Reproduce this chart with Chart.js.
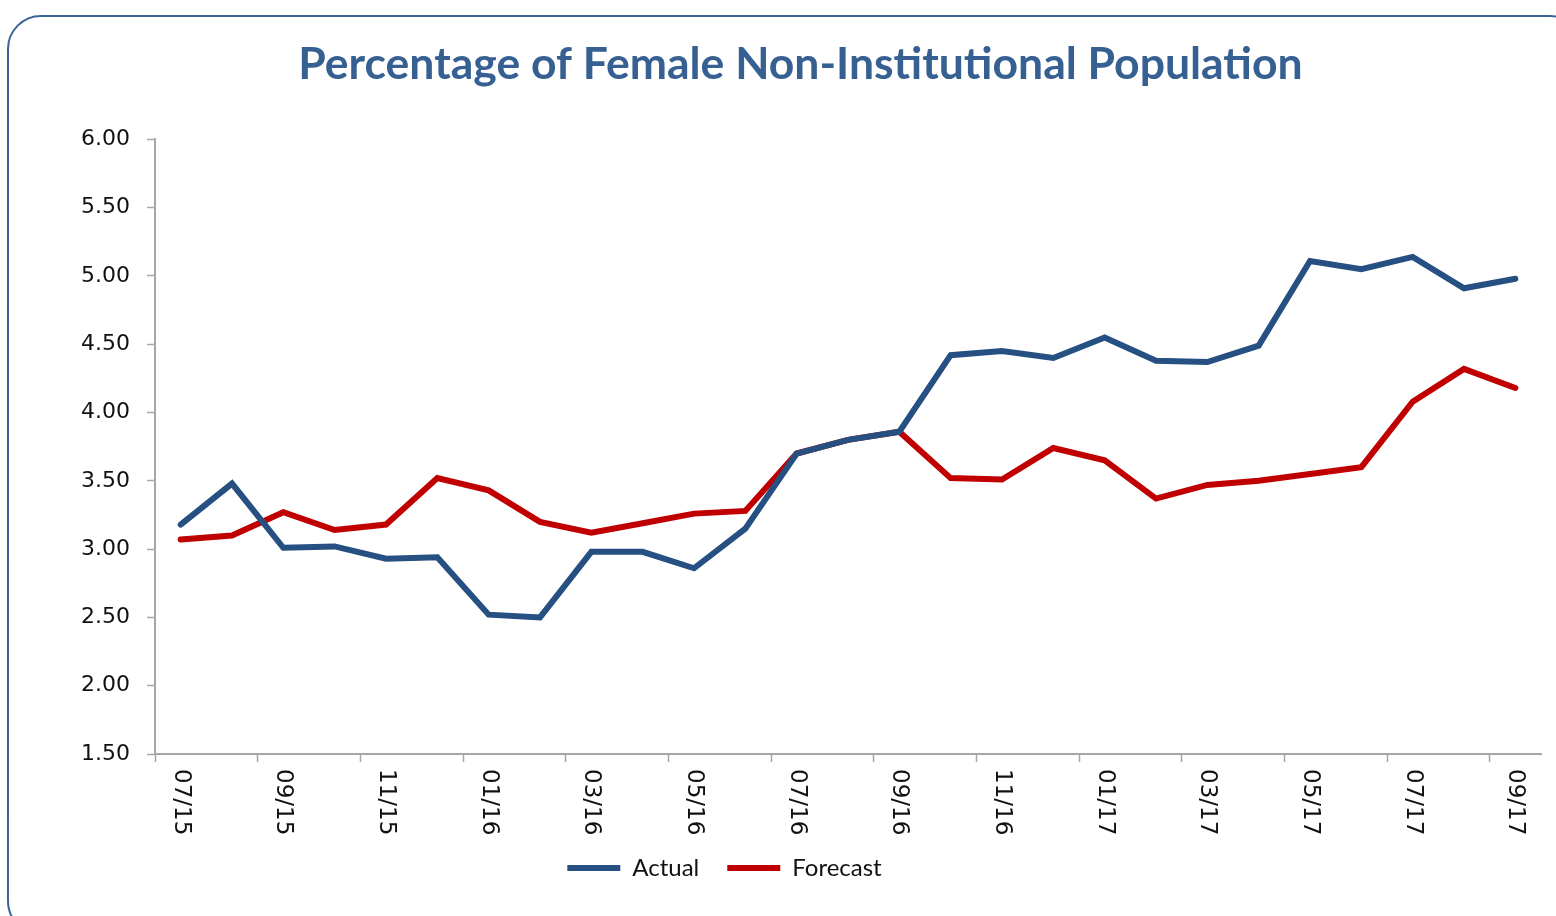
<!DOCTYPE html>
<html>
<head>
<meta charset="utf-8">
<script src="https://cdn.jsdelivr.net/npm/chart.js@4.4.0/dist/chart.umd.min.js"></script>
<style>
  html, body { margin: 0; padding: 0; background: #ffffff; }
  #wrap { position: relative; width: 1556px; height: 916px; }
</style>
</head>
<body>
<div id="wrap"><canvas id="c" width="1556" height="916"></canvas></div>
<script>
const chartTitle = 'Percentage of Female Non-Institutional Population';
const months = ['07/15','08/15','09/15','10/15','11/15','12/15','01/16','02/16','03/16','04/16','05/16','06/16',
                '07/16','08/16','09/16','10/16','11/16','12/16','01/17','02/17','03/17','04/17','05/17','06/17',
                '07/17','08/17','09/17'];
const actual = [3.18, 3.48, 3.01, 3.02, 2.93, 2.94, 2.52, 2.50, 2.98, 2.98, 2.86, 3.15,
                3.70, 3.80, 3.86, 4.42, 4.45, 4.40, 4.55, 4.38, 4.37, 4.49, 5.11, 5.05,
                5.14, 4.91, 4.98];
const forecast = [3.07, 3.10, 3.27, 3.14, 3.18, 3.52, 3.43, 3.20, 3.12, 3.19, 3.26, 3.28,
                  3.70, 3.80, 3.86, 3.52, 3.51, 3.74, 3.65, 3.37, 3.47, 3.50, 3.55, 3.60,
                  4.08, 4.32, 4.18];
const yMin = 1.5, yMax = 6.0, yStep = 0.5;

const CHART_BOTTOM = 754;
const PAD_BOTTOM = 26;
const AXIS_GRAY = '#a6a6a6';
const TICK_FONT = 'DejaVu Sans';

const framePlugin = {
  id: 'frame',
  beforeDraw(chart) {
    const ctx = chart.ctx;
    ctx.save();
    ctx.fillStyle = '#ffffff';
    ctx.fillRect(0, 0, chart.width, chart.height);
    ctx.beginPath();
    ctx.roundRect(8, 16, 1575, 918, 33);
    ctx.lineWidth = 2;
    ctx.strokeStyle = '#3b6496';
    ctx.stroke();
    ctx.restore();
  }
};

const shiftPlugin = {
  id: 'shift',
  afterLayout(chart) {
    if (chart.titleBlock) { chart.titleBlock.left += 30; chart.titleBlock.right += 30; }
    if (chart.legend) { chart.legend.left -= 46; chart.legend.right -= 46; }
  }
};

const xLabelPlugin = {
  id: 'xLabels',
  afterDraw(chart) {
    const xs = chart.scales.x;
    const ctx = chart.ctx;
    ctx.save();
    ctx.font = '23px "' + TICK_FONT + '"';
    ctx.fillStyle = '#111111';
    ctx.textAlign = 'left';
    ctx.textBaseline = 'middle';
    months.forEach((m, i) => {
      if (i % 2 !== 0) return;
      const x = xs.getPixelForValue(i);
      ctx.save();
      ctx.translate(x, 769);
      ctx.rotate(Math.PI / 2);
      ctx.fillText(m, 0, 0);
      ctx.restore();
    });
    ctx.restore();
  }
};

new Chart(document.getElementById('c'), {
  type: 'line',
  data: {
    labels: months,
    datasets: [
      { label: 'Actual', data: actual, borderColor: '#264f82', backgroundColor: '#264f82',
        borderWidth: 6, pointRadius: 0, tension: 0, borderCapStyle: 'round', borderJoinStyle: 'miter' },
      { label: 'Forecast', data: forecast, borderColor: '#c00000', backgroundColor: '#c00000',
        borderWidth: 6, pointRadius: 0, tension: 0, borderCapStyle: 'round', borderJoinStyle: 'miter' }
    ]
  },
  options: {
    responsive: false,
    animation: false,
    layout: { padding: { left: 0, right: 15, top: 16, bottom: PAD_BOTTOM } },
    plugins: {
      title: {
        display: true,
        text: chartTitle,
        color: '#376092',
        font: { family: 'Lato', size: 44.5, weight: 'bold' },
        padding: { top: 22, bottom: 48 }
      },
      legend: {
        display: true,
        position: 'bottom',
        labels: {
          usePointStyle: true,
          pointStyle: 'line',
          pointStyleWidth: 53,
          boxHeight: 22,
          color: '#111111',
          font: { family: 'Lato', size: 24 },
          padding: 28
        }
      },
      tooltip: { enabled: false }
    },
    scales: {
      x: {
        type: 'category',
        offset: true,
        grid: {
          offset: true,
          drawOnChartArea: false,
          drawTicks: true,
          tickLength: 8,
          tickWidth: 1.5,
          tickColor: (c) => (c.index !== undefined && c.index % 2 === 0) ? AXIS_GRAY : 'rgba(0,0,0,0)'
        },
        border: { display: true, color: AXIS_GRAY, width: 2 },
        ticks: { display: false, autoSkip: false },
        afterFit(scale) {
          const lh = scale.chart.legend ? scale.chart.legend.height : 0;
          scale.height = 916 - CHART_BOTTOM - lh - PAD_BOTTOM;
        }
      },
      y: {
        min: yMin,
        max: yMax,
        grid: {
          drawOnChartArea: false,
          drawTicks: true,
          tickLength: 8,
          tickWidth: 1.5,
          tickColor: AXIS_GRAY
        },
        border: { display: true, color: AXIS_GRAY, width: 2 },
        ticks: {
          stepSize: yStep,
          padding: 17,
          color: '#111111',
          font: { family: TICK_FONT, size: 22 },
          callback: (v) => Number(v).toFixed(2)
        },
        afterFit(scale) { scale.width = 155; }
      }
    }
  },
  plugins: [framePlugin, shiftPlugin, xLabelPlugin]
});
</script>
</body>
</html>
